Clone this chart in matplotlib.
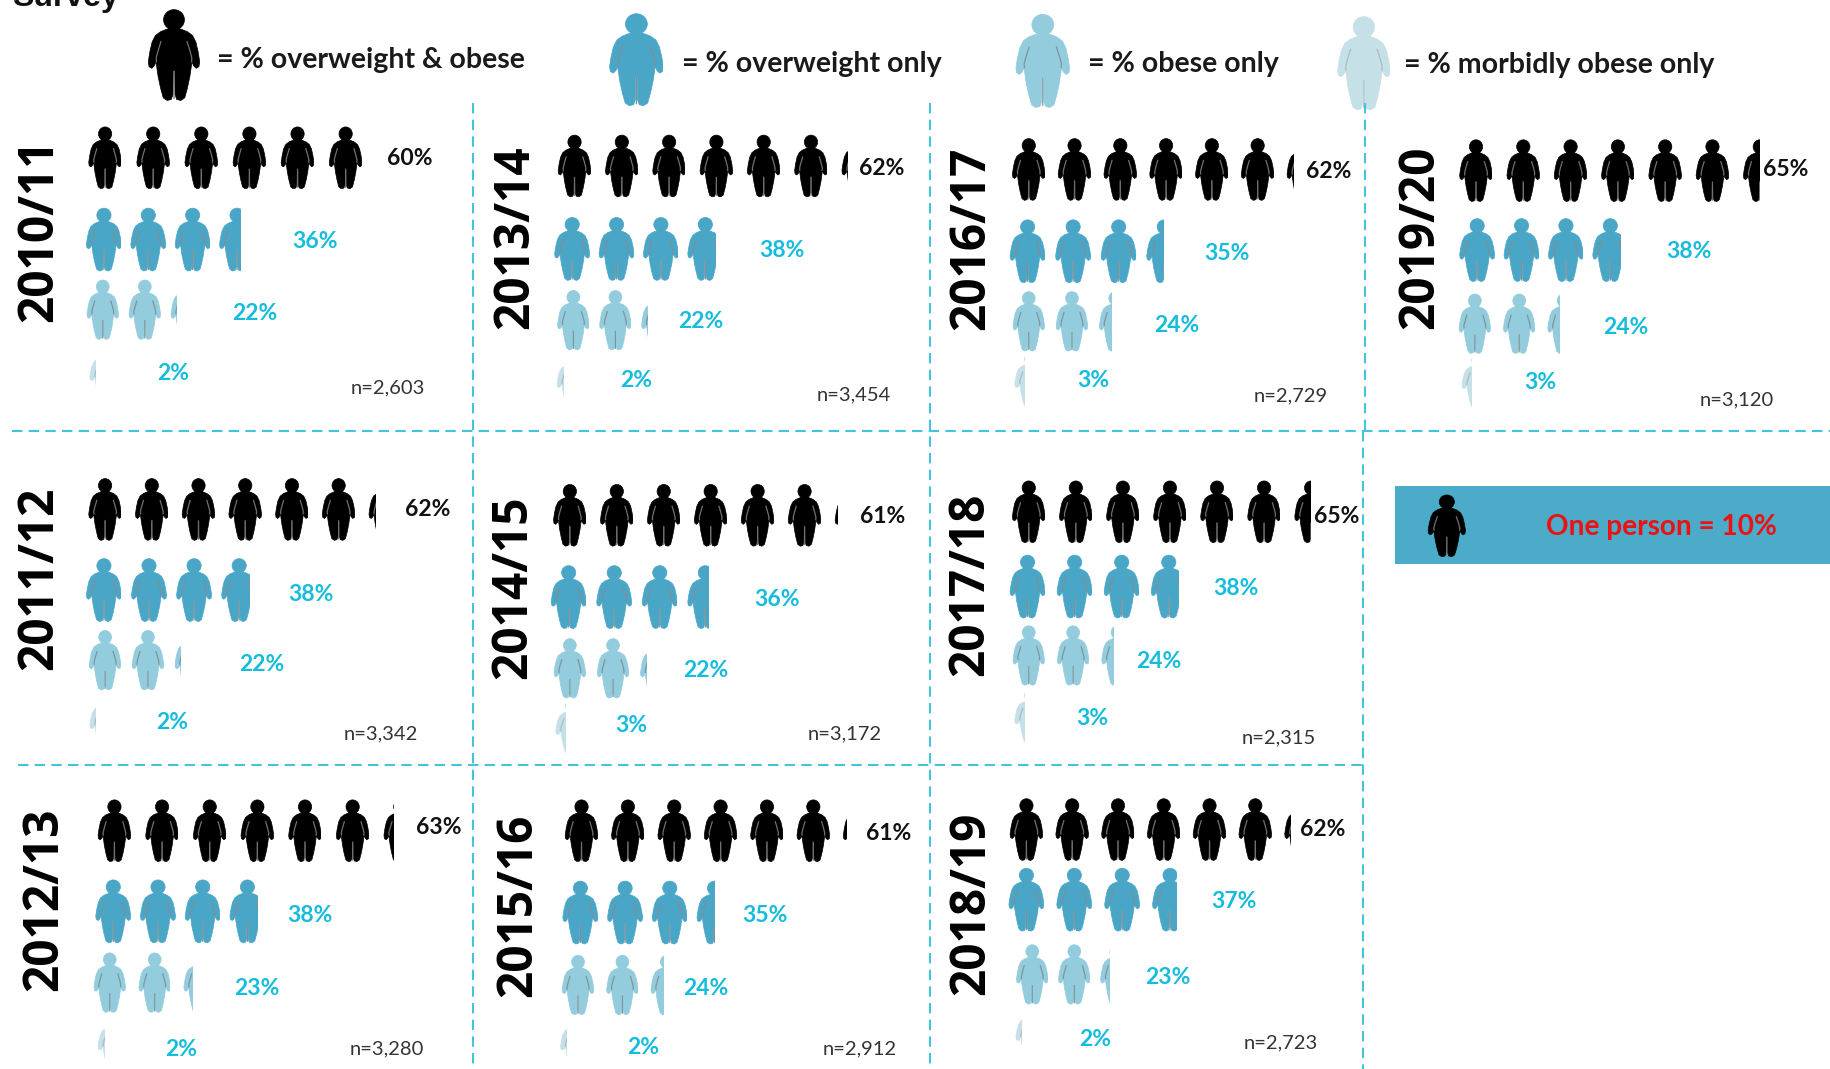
import matplotlib
matplotlib.use("Agg")
import matplotlib.pyplot as plt
from matplotlib.path import Path
from matplotlib.patches import PathPatch, Rectangle
from matplotlib.transforms import Affine2D

# Survey results, one entry per survey year
years = ["2010/11", "2011/12", "2012/13", "2013/14", "2014/15", "2015/16",
         "2016/17", "2017/18", "2018/19", "2019/20"]
overweight_obese = [60, 62, 63, 62, 61, 61, 62, 65, 62, 65]
overweight_only = [36, 38, 38, 38, 36, 35, 35, 38, 37, 38]
obese_only = [22, 22, 23, 22, 22, 24, 24, 24, 23, 24]
morbid_only = [2, 2, 2, 2, 3, 2, 3, 3, 2, 3]
sample_sizes = [2603, 3342, 3280, 3454, 3172, 2912, 2729, 2315, 2723, 3120]

# Panel layout: year label centre, icon row y, first icon x
year_xy = [(34, 197), (34, 495), (38, 770), (442, 203), (440, 503), (444, 775),
           (832, 204), (831, 500), (832, 773), (1217, 203)]
row_y = [(135, 205, 265, 319), (436, 505, 565, 617), (711, 780, 841, 892),
         (142, 213, 274, 325), (441, 511, 572, 622), (711, 781, 843, 892),
         (145, 215, 275, 325), (438, 502, 561, 613), (710, 770, 834, 884),
         (146, 214, 277, 326)]
row_x = [(90, 89, 88, 91), (90, 89, 90, 91), (98, 97, 94, 98),
         (492, 490, 491, 491), (488, 487, 488, 490), (498, 497, 495, 494),
         (881, 880, 881, 883), (881, 880, 881, 883), (879, 879, 884, 884),
         (1264, 1265, 1263, 1266)]
# Icon pitch per panel for the black, mid blue and light blue rows
pitch = [(41.2, 38, 36), (40, 38.6, 36.7), (40.8, 38.3, 38.5),
         (40.5, 38, 36), (40.2, 39, 37), (39.7, 38.3, 38),
         (39.2, 39, 37), (40.3, 40.3, 38), (39.2, 41, 36),
         (40.5, 38, 38)]
label_x = [(351, 270, 218, 148), (366, 266, 224, 147), (376, 265, 220, 155),
           (755, 670, 600, 545), (756, 665, 604, 541), (761, 655, 604, 551),
           (1138, 1051, 1008, 936), (1145, 1058, 992, 935), (1133, 1057, 1000, 938),
           (1529, 1446, 1392, 1319)]
label_y = [(136, 207, 268, 320), (436, 509, 569, 618), (708, 784, 846, 898),
           (144, 214, 275, 326), (442, 513, 574, 621), (713, 784, 846, 897),
           (147, 217, 279, 326), (442, 504, 566, 615), (710, 772, 837, 890),
           (145, 215, 280, 327)]
n_xy = [(332, 332), (326, 628), (331, 898), (731, 338), (723, 628), (736, 898),
        (1105, 339), (1095, 632), (1097, 893), (1487, 342)]

# Styles per category
colors = ["#000000", "#4aa6c6", "#93ccdd", "#c6e0e8"]
icon_w = [28, 30, 27, 28]
icon_h = [53, 54, 51, 46]
line_cols = ["#707070", "#7f8f96", "#7f959c", "#a9bcc2"]
CYAN = "#16bcdc"
DASH = "#45c3dc"

# Right half of the figure, in a 34 x 62 box with y pointing down
SIDE = [(0, 13.2), (4.5, 13.4), (8.9, 15.2), (12.3, 17.8), (14.5, 22.3), (16, 29),
        (17, 35.7), (16.5, 39), (14.7, 40.1), (13, 38.4), (11.9, 35.7), (11.3, 40),
        (10.5, 45.7), (8.9, 53.5), (7.1, 60.2), (4.5, 62), (1.8, 61.3), (0.7, 58),
        (0.5, 42.2), (0, 41.2)]


def person_paths():
    body = SIDE + [(-x, y) for x, y in reversed(SIDE[1:-1])]
    codes = [Path.MOVETO] + [Path.LINETO] * (len(body) - 1) + [Path.CLOSEPOLY]
    body_path = Path(body + [body[0]], codes)
    head = Affine2D().scale(6.9, 6.9).translate(0, 7.1).transform_path(Path.unit_circle())
    solid = Path.make_compound_path(head, body_path)
    # arm creases and the line between the legs
    verts, line_codes = [], []
    for sign in (1, -1):
        crease = [(sign * 8.5, 21.5), (sign * 10.5, 28), (sign * 11.8, 33), (sign * 11.6, 36)]
        verts += crease
        line_codes += [Path.MOVETO] + [Path.LINETO] * 3
    verts += [(0, 42), (0, 61)]
    line_codes += [Path.MOVETO, Path.LINETO]
    return solid, Path(verts, line_codes)


SOLID, CREASES = person_paths()


def draw_person(ax, cx, cy, w, h, color, line_col, frac=1.0):
    tr = Affine2D().translate(0, -31).scale(w / 34, h / 62).translate(cx, cy) + ax.transData
    clip = Rectangle((cx - w / 2 - 1, cy - h), w * frac + 1, 2 * h, transform=ax.transData)
    face = PathPatch(SOLID, facecolor=color, edgecolor=color, lw=0.5, transform=tr)
    lines = PathPatch(CREASES, facecolor="none", edgecolor=line_col, lw=0.9, transform=tr)
    ax.add_patch(face)
    ax.add_patch(lines)
    face.set_clip_path(clip)
    lines.set_clip_path(clip)


fig = plt.figure(figsize=(18.31, 10.69), dpi=100)
ax = fig.add_axes([0, 0, 1, 1])
ax.set_xlim(0, 1568)
ax.set_ylim(915, 0)
ax.axis("off")

LABEL_FONT = ["Lato", "DejaVu Sans"]

# Dashed dividers
for x, y0, y1 in [(405, 88, 915), (796, 88, 915), (1169, 88, 369), (1167, 369, 915)]:
    ax.plot([x, x], [y0, y1], color=DASH, lw=1.5, ls=(0, (5, 3)))
for y, x0, x1 in [(369, 10, 1568), (655, 15, 1167)]:
    ax.plot([x0, x1], [y, y], color=DASH, lw=1.5, ls=(0, (5, 3)))

# Title runs off the top edge
ax.text(10, 5, "Survey", fontsize=23, fontweight="bold", family="Liberation Sans",
        color="#111111", ha="left", va="baseline")

# Legend
legend_icons = [(149, 47, 44, 78), (545, 51, 46, 79), (893, 52, 46, 80), (1168, 54, 45, 80)]
legend_text = ["= % overweight & obese", "= % overweight only", "= % obese only",
               "= % morbidly obese only"]
legend_tx = [(186, 51), (584, 55), (932, 55), (1202, 56)]
for k in range(4):
    cx, cy, w, h = legend_icons[k]
    draw_person(ax, cx, cy, w, h, colors[k], line_cols[k])
    ax.text(legend_tx[k][0], legend_tx[k][1], legend_text[k], fontsize=20.5, family=LABEL_FONT,
            fontweight="bold", color="#1a1a1a", ha="left", va="center")

# Year panels
series = [overweight_obese, overweight_only, obese_only, morbid_only]
for i, year in enumerate(years):
    ax.text(year_xy[i][0], year_xy[i][1], year, rotation=90, fontsize=34.5, fontweight="bold",
            family="Open Sans", color="#000000", ha="center", va="center")
    for k, values in enumerate(series):
        value = values[i]
        whole = value // 10
        part = (value % 10) / 10
        step = pitch[i][k] if k < 3 else 38
        for j in range(whole):
            draw_person(ax, row_x[i][k] + j * step, row_y[i][k], icon_w[k], icon_h[k],
                        colors[k], line_cols[k])
        if part > 0:
            draw_person(ax, row_x[i][k] + whole * step, row_y[i][k], icon_w[k], icon_h[k],
                        colors[k], line_cols[k], frac=part)
        ax.text(label_x[i][k], label_y[i][k], f"{value}%", fontsize=16.5, fontweight="bold",
                family=LABEL_FONT, color="#111111" if k == 0 else CYAN, ha="center", va="center")
    ax.text(n_xy[i][0], n_xy[i][1], f"n={sample_sizes[i]:,}", fontsize=14.5, family=LABEL_FONT,
            color="#333333", ha="center", va="center")

# Key for the icon scale
ax.add_patch(Rectangle((1195, 416), 373, 67, facecolor="#4babc8", edgecolor="none"))
draw_person(ax, 1239, 450, 32, 53, "#000000", "#707070")
ax.text(1423, 451, "One person = 10%", fontsize=20.2, fontweight="bold", family=LABEL_FONT,
        color="#ee1111", ha="center", va="center")

fig.savefig("out.png", dpi=100)
